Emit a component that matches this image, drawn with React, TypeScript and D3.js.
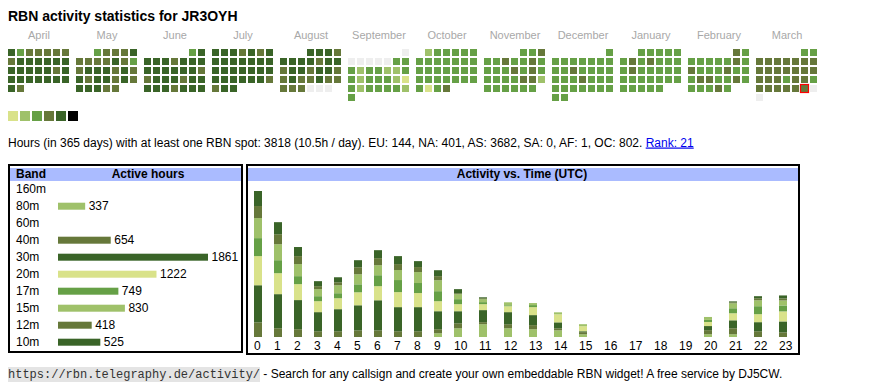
import React from "react";
import * as d3 from "d3";

// ---------- data ----------
const title = "RBN activity statistics for JR3OYH";
const monthNames = ["April", "May", "June", "July", "August", "September", "October", "November", "December", "January", "February", "March"];
const monthYears = [2024, 2024, 2024, 2024, 2024, 2024, 2024, 2024, 2024, 2025, 2025, 2025];
const monthNums = [3, 4, 5, 6, 7, 8, 9, 10, 11, 0, 1, 2];
// activity level per day: 0 none, 1..5 increasing band count
const lvApr = [5,3,4,4,4,4,4, 4,5,5,5,5,5,5, 5,5,5,5,5,4,5, 5,5,5,5,5,5,5, 5,4];
const lvMay = [3,4,4,4,5, 4,4,4,4,5,4,3, 4,5,5,5,4,5,4, 5,4,5,5,4,5,4, 5,5,5,4,4];
const lvJun = [3,5, 5,5,5,4,5,5,5, 5,5,5,5,5,5,4, 4,5,5,5,4,5,5, 5,5,5,4,5,5,5];
const lvJul = [5,5,5,4,5,4,5, 5,5,5,5,5,5,5, 5,5,5,5,5,5,5, 5,5,5,5,5,5,4, 4,5,5];
const lvAug = [5,5,5,4, 5,5,5,5,4,5,5, 4,5,5,4,5,5,4, 4,5,4,4,5,4,4, 4,4,4,0,0,0];
const lvSep = [0, 0,0,0,0,0,3,3, 3,2,3,3,2,2,3, 3,2,3,3,3,2,1, 3,2,3,3,3,3,2, 3];
const lvOct = [2,3,3,3,3,3, 3,3,3,3,3,3,3, 3,3,3,3,3,3,3, 3,3,3,3,3,3,3, 3,1,3,4];
const lvNov = [3,3,4, 3,3,4,3,3,4,3, 3,3,3,4,3,4,3, 3,3,3,3,4,4,2, 3,3,3,3,3,3];
const lvDec = [3, 3,3,3,3,3,3,3, 3,3,4,3,3,3,3, 3,3,3,4,3,3,3, 3,3,3,3,3,3,3, 3,3];
const lvJan = [3,3,3,3,3, 3,4,3,4,3,3,3, 3,4,3,3,3,3,3, 3,3,3,3,3,3,3, 3,3,3,3,3];
const lvFeb = [4,3, 3,3,3,3,3,4,3, 4,3,3,3,4,3,3, 3,4,4,3,3,4,3, 3,3,3,4,3];
const lvMar = [3,3, 4,4,4,4,4,4,4, 4,4,4,4,4,4,4, 4,4,4,3,4,4,3, 4,4,4,4,4,4,0, 0];
const dayLevels = [lvApr, lvMay, lvJun, lvJul, lvAug, lvSep, lvOct, lvNov, lvDec, lvJan, lvFeb, lvMar];
const todayMonth = 11;
const todayDay = 29;

const descText = "Hours (in 365 days) with at least one RBN spot: 3818 (10.5h / day). EU: 144, NA: 401, AS: 3682, SA: 0, AF: 1, OC: 802. ";
const rankText = "Rank: 21";

const bands = ["160m", "80m", "60m", "40m", "30m", "20m", "17m", "15m", "12m", "10m"];
const bandHours = [0, 337, 0, 654, 1861, 1222, 749, 830, 418, 525];

const hours = d3.range(24);
const h160 = [0,0,0,0,0,0,0,0,0,0,0,0,0,0,0,0,0,0,0,0,0,0,0,0];
const h80 = [0,0,0,0,0,0,0,0,0,20,47,69,47,42,36,15,0,0,0,0,15,15,0,0];
const h60 = [0,0,0,0,0,0,0,0,0,0,0,0,0,0,0,0,0,0,0,0,0,0,0,0];
const h40 = [79,47,42,31,31,36,36,31,31,22,27,11,22,22,11,11,0,0,0,0,22,32,31,25];
const h30 = [200,184,157,103,119,135,162,130,130,97,65,65,65,54,32,5,0,0,0,0,22,43,49,59];
const h20 = [157,113,86,59,59,70,76,81,76,54,38,32,32,43,43,27,0,0,0,0,22,38,43,54];
const h17 = [97,70,43,27,27,43,59,65,54,54,27,11,5,11,0,0,0,0,0,0,11,27,43,32];
const h15 = [108,86,65,38,43,54,54,54,59,59,27,16,16,11,11,11,0,0,0,0,16,27,32,27];
const h12 = [65,54,43,16,16,38,38,32,27,22,5,5,0,0,0,0,0,0,0,0,0,5,11,11];
const h10 = [81,65,49,27,27,38,43,43,32,32,22,5,0,0,0,0,0,0,0,0,0,5,11,16];
const hourly = [h160, h80, h60, h40, h30, h20, h17, h15, h12, h10];

const footerUrl = "https://rbn.telegraphy.de/activity/";
const footerText = " - Search for any callsign and create your own embeddable RBN widget! A free service by DJ5CW.";

// ---------- styles ----------
const C_Y = "#d9e28a";
const C_L = "#9fc16a";
const C_G = "#66a046";
const C_O = "#66783a";
const C_D = "#3a6428";
const levelColors = ["#eeeeee", C_Y, C_L, C_G, C_O, C_D, "#000000"];
const legendColors = [C_Y, C_L, C_G, C_O, C_D, "#000000"];
const bandColors = [C_Y, C_L, C_G, C_O, C_D, C_Y, C_G, C_L, C_O, C_D];
const FONT = "'Liberation Sans', Arial, Helvetica, sans-serif";
const HEAD_BG = "#aabbff";

export default function App() {
  // calendar
  const monthX = d3.scaleLinear().domain([0, 11]).range([8, 8 + 68 * 11]);
  const colX = d3.scaleLinear().domain([0, 6]).range([0, 54]);
  const rowY = d3.scaleLinear().domain([0, 5]).range([49, 94]);
  const cells: any[] = [];
  dayLevels.forEach((lv, mi) => {
    const first = new Date(monthYears[mi], monthNums[mi], 1).getDay();
    const startDow = (first + 6) % 7;
    lv.forEach((level, di) => {
      const k = startDow + di;
      cells.push({ mi, day: di + 1, col: k % 7, row: Math.floor(k / 7), level });
    });
  });

  // band table
  const barX = d3.scaleLinear().domain([0, d3.max(bandHours) as number]).range([0, 150]);
  const rowBase = d3.scaleLinear().domain([0, 9]).range([193, 346]);

  // activity chart
  const table = hours.map((h) => {
    const o: any = { hour: h };
    bands.forEach((b, i) => (o[b] = hourly[i][h]));
    return o;
  });
  const stack = d3.stack().keys(bands)(table as any);
  const totals = hours.map((h) => d3.sum(hourly, (a) => a[h]));
  const y = d3.scaleLinear().domain([0, d3.max(totals) as number]).range([337, 191]);
  const x = d3.scaleLinear().domain([0, 10, 23]).range([254, 454, 779]);
  const barW = 8;

  return (
    <svg width={870} height={390} style={{ position: "absolute", left: 0, top: 0, fontFamily: FONT }}>
      <rect x={0} y={0} width={870} height={390} fill="#fff" />
      <text x={8} y={21} fontSize={14} fontWeight="bold" fill="#000">{title}</text>

      {monthNames.map((m, i) => (
        <text key={m} x={monthX(i) + 31} y={39} fontSize={11} fill="#a8a8a8" textAnchor="middle">{m}</text>
      ))}
      {cells.map((c, i) => (
        <rect key={i} x={monthX(c.mi) + colX(c.col)} y={rowY(c.row)} width={7} height={7} fill={levelColors[c.level]} />
      ))}
      {cells.filter((c) => c.mi === todayMonth && c.day === todayDay).map((c, i) => (
        <rect key={"t" + i} x={monthX(c.mi) + colX(c.col) - 0.5} y={rowY(c.row) - 0.5} width={8} height={8} fill="none" stroke="#ff0000" strokeWidth={1.2} />
      ))}
      {legendColors.map((c, i) => (
        <rect key={"lg" + i} x={8 + 12 * i} y={111} width={10} height={10} fill={c} />
      ))}

      <text x={8} y={146.5} fontSize={12} fill="#000">
        {descText}
        <tspan fill="#0000ee" textDecoration="underline" style={{ textDecoration: "underline" }}>{rankText}</tspan>
      </text>
      <line x1={8 + 0} x2={0} y1={0} y2={0} />

      {/* band table */}
      <rect x={9} y={165} width={233} height={187} fill="none" stroke="#000" strokeWidth={2} />
      <rect x={10} y={168} width={231} height={13} fill={HEAD_BG} />
      <text x={16} y={177.5} fontSize={12} fontWeight="bold">Band</text>
      <text x={148} y={177.5} fontSize={12} fontWeight="bold" textAnchor="middle">Active hours</text>
      {bands.map((b, i) => (
        <g key={b}>
          <text x={16} y={rowBase(i)} fontSize={12}>{b}</text>
          {bandHours[i] > 0 && (
            <>
              <rect x={58} y={rowBase(i) - 7.3} width={barX(bandHours[i])} height={7} fill={bandColors[i]} />
              <text x={58 + barX(bandHours[i]) + 3.5} y={rowBase(i)} fontSize={12}>{bandHours[i]}</text>
            </>
          )}
        </g>
      ))}

      {/* activity chart */}
      <rect x={247} y={165} width={552} height={189} fill="none" stroke="#000" strokeWidth={2} />
      <rect x={248} y={168} width={550} height={13} fill={HEAD_BG} />
      <text x={522} y={177.5} fontSize={12} fontWeight="bold" textAnchor="middle">Activity vs. Time (UTC)</text>
      {stack.map((s, si) => (
        <g key={bands[si]} fill={bandColors[si]}>
          {s.map((d: any, hi: number) =>
            d[1] - d[0] > 0 ? (
              <rect key={hi} x={x(hi)} y={y(d[1])} width={barW} height={y(d[0]) - y(d[1])} />
            ) : null
          )}
        </g>
      ))}
      {hours.map((h) => (
        <text key={"hl" + h} x={x(h)} y={350} fontSize={12}>{h}</text>
      ))}

      {/* footer */}
      <rect x={8} y={367} width={252} height={15} fill="#e4e4e4" />
      <text x={8} y={378} fontSize={12} fontFamily="'Liberation Mono', 'Courier New', monospace" fill="#333">{footerUrl}</text>
      <text x={260} y={378} fontSize={12} fill="#000" style={{ whiteSpace: "pre" }} xmlSpace="preserve">{footerText}</text>
    </svg>
  );
}
